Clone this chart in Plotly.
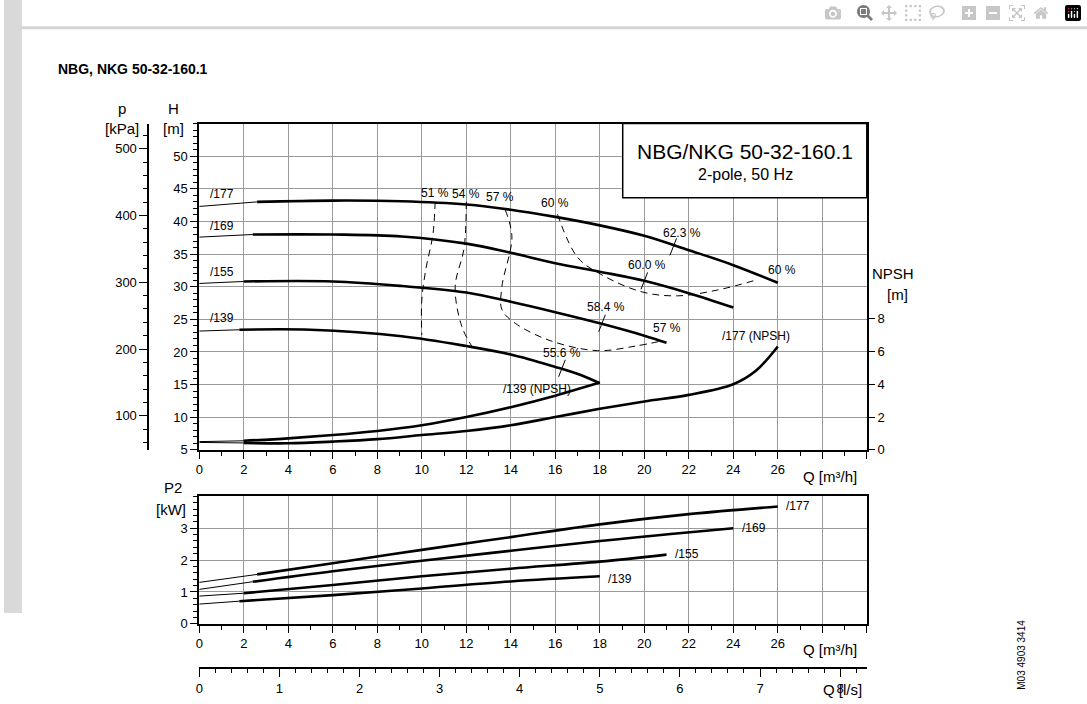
import plotly.graph_objects as go

# ---------- data ----------
H177_Q = [2.6, 6, 9.1, 12, 14, 16, 18, 20, 22, 24, 26]
H177_H = [43.0, 43.2, 43.1, 42.6, 41.8, 40.7, 39.4, 37.8, 35.6, 33.3, 30.6]
H169_Q = [2.4, 6, 9.1, 12, 14, 16, 18, 20, 22, 24]
H169_H = [38.0, 38.0, 37.7, 36.6, 35.2, 33.6, 32.3, 30.9, 29.0, 26.8]
H155_Q = [2, 6, 9.1, 12, 14, 16, 18, 20, 21]
H155_H = [30.8, 30.8, 30.1, 29.1, 27.7, 26.1, 24.4, 22.5, 21.4]
H139_Q = [1.8, 5, 9.1, 12, 14, 16, 17.2, 18]
H139_H = [23.4, 23.4, 22.4, 20.9, 19.6, 17.7, 16.4, 15.2]
H_thin_start = [42.3, 37.6, 30.5, 23.2]

NPSH139_Q = [0, 2, 4, 6, 8, 10, 12, 14, 16, 18]
NPSH139_V = [0.5, 0.55, 0.7, 0.9, 1.15, 1.5, 2.0, 2.6, 3.3, 4.1]
NPSH177_Q = [0, 2, 4, 6, 8, 10, 12, 14, 16, 18, 20, 22, 24, 25, 26]
NPSH177_V = [0.45, 0.42, 0.4, 0.5, 0.65, 0.9, 1.15, 1.5, 2.0, 2.5, 2.95, 3.35, 4.0, 4.8, 6.3]

E51_Q = [10.6, 10.5, 10.2, 10.0, 10.0]
E51_H = [43.0, 38.0, 33.0, 28.0, 22.6]
E54_Q = [12.0, 11.9, 11.5, 11.8, 12.3]
E54_H = [43.0, 35.9, 30.0, 23.9, 20.6]
E57_Q = [13.75, 14.05, 13.6, 13.6, 14.2, 15.8, 17.9, 19.6, 20.8]
E57_H = [41.8, 37.6, 30.0, 26.5, 24.4, 21.7, 20.2, 20.9, 21.7]
E60_Q = [16.1, 17.0, 18.1, 19.9, 21.5, 23.3, 25.1]
E60_H = [41.1, 34.5, 31.8, 29.2, 28.6, 29.5, 31.1]
BEP_Q = [21.3, 20.0, 18.1, 16.3]
BEP_H = [36.1, 30.9, 24.4, 17.5]

P177_Q = [2.6, 6, 10, 14, 18, 22, 26]
P177_P = [1.55, 1.9, 2.32, 2.72, 3.12, 3.44, 3.68]
P169_Q = [2.4, 6, 10, 14, 18, 24]
P169_P = [1.32, 1.65, 1.98, 2.29, 2.6, 3.0]
P155_Q = [2, 6, 10, 14, 18, 21]
P155_P = [0.96, 1.22, 1.49, 1.73, 1.95, 2.17]
P139_Q = [1.8, 6, 10, 14, 18]
P139_P = [0.71, 0.9, 1.11, 1.33, 1.49]
P_thin_start = [1.3, 1.08, 0.87, 0.62]

curve_names = ["/177", "/169", "/155", "/139"]
eff_labels = ["51 %", "54 %", "57 %", "60 %", "62.3 %", "60.0 %", "60 %", "58.4 %", "57 %", "55.6 %"]
eff_label_Q = [10.6, 12.0, 13.5, 16.0, 21.7, 20.1, 26.2, 18.3, 21.0, 16.3]
eff_label_H = [44.4, 44.2, 43.8, 42.8, 38.3, 33.4, 32.6, 26.9, 23.7, 19.8]

xticks_q = list(range(0, 31, 2))
xtick_txt = [str(v) if v <= 26 else "" for v in xticks_q]

# ---------- figure ----------
fig = go.Figure()
FONT = "Liberation Sans, Arial, sans-serif"
thick = dict(color="black", width=2.6)
thin = dict(color="black", width=1)
dash = dict(color="black", width=1, dash="7px,5px")

Hset = [(H177_Q, H177_H), (H169_Q, H169_H), (H155_Q, H155_H), (H139_Q, H139_H)]
for (q, h), h0 in zip(Hset, H_thin_start):
    fig.add_trace(go.Scatter(x=[0, q[0]], y=[h0, h[0]], mode="lines", line=thin, line_shape="spline"))
    fig.add_trace(go.Scatter(x=q, y=h, mode="lines", line=thick, line_shape="spline"))

for q, h in [(E51_Q, E51_H), (E54_Q, E54_H), (E57_Q, E57_H), (E60_Q, E60_H)]:
    fig.add_trace(go.Scatter(x=q, y=h, mode="lines", line=dash, line_shape="spline"))
for q, h in zip(BEP_Q, BEP_H):
    fig.add_trace(go.Scatter(x=[q - 0.15, q + 0.15], y=[h - 1.3, h + 1.3], mode="lines", line=thin))

for q, v in [(NPSH139_Q, NPSH139_V), (NPSH177_Q, NPSH177_V)]:
    fig.add_trace(go.Scatter(x=[q[0], q[1]], y=[v[0], v[1]], mode="lines", line=thin, yaxis="y2"))
    fig.add_trace(go.Scatter(x=q[1:], y=v[1:], mode="lines", line=thick, line_shape="spline", yaxis="y2"))

Pset = [(P177_Q, P177_P), (P169_Q, P169_P), (P155_Q, P155_P), (P139_Q, P139_P)]
for (q, p), p0 in zip(Pset, P_thin_start):
    fig.add_trace(go.Scatter(x=[0, q[0]], y=[p0, p[0]], mode="lines", line=thin, xaxis="x2", yaxis="y4"))
    fig.add_trace(go.Scatter(x=q, y=p, mode="lines", line=thick, line_shape="spline", xaxis="x2", yaxis="y4"))

# invisible helpers so the extra axes (p and Q l/s) are drawn
fig.add_trace(go.Scatter(x=[1], y=[100], mode="markers", marker=dict(opacity=0), yaxis="y3", hoverinfo="skip"))
fig.add_trace(go.Scatter(x=[1], y=[1], mode="markers", marker=dict(opacity=0), xaxis="x3", yaxis="y4", hoverinfo="skip"))

W, Hpx = 1087, 704
def px(x): return x / W
def py(y): return (Hpx - y) / Hpx

XD = [px(196), px(866)]
tickfont = dict(family=FONT, size=13, color="black")
ax_common = dict(showline=True, linecolor="black", linewidth=2, ticks="outside", tickcolor="black",
                 tickfont=tickfont, showgrid=True, gridcolor="#9a9a9a", gridwidth=1, zeroline=False)

fig.update_layout(
    width=W, height=Hpx, margin=dict(l=0, r=0, t=0, b=0), showlegend=False,
    plot_bgcolor="white", paper_bgcolor="white", font=dict(family=FONT, color="black"),
    xaxis=dict(ax_common, domain=XD, anchor="y", range=[0, 30], tickmode="array", tickvals=xticks_q,
               ticktext=xtick_txt, ticklen=7, mirror=True,
               minor=dict(tickmode="linear", tick0=0, dtick=1, ticklen=4, showgrid=False, tickcolor="black")),
    yaxis=dict(ax_common, domain=[py(455), py(125)], anchor="x", range=[5, 55], tickmode="array",
               tickvals=list(range(5, 51, 5)), ticklen=7, mirror=True,
               minor=dict(tickmode="linear", tick0=5, dtick=1, ticklen=4, showgrid=False, tickcolor="black")),
    yaxis2=dict(overlaying="y", side="right", anchor="x", range=[0, 19.88], tickmode="array",
                tickvals=[0, 2, 4, 6, 8], showgrid=False, showline=False, ticks="outside", ticklen=7,
                tickcolor="black", tickfont=tickfont, zeroline=False),
    yaxis3=dict(overlaying="y", side="left", anchor="free", position=px(145), range=[5 * 9.78, 55 * 9.78],
                tickmode="array", tickvals=[100, 200, 300, 400, 500], showgrid=False, showline=True,
                linecolor="black", linewidth=2, ticks="outside", ticklen=8, tickcolor="black",
                tickfont=tickfont, zeroline=False,
                minor=dict(tickmode="linear", tick0=0, dtick=20, ticklen=4, tickcolor="black")),
    xaxis2=dict(ax_common, domain=XD, anchor="y4", range=[0, 30], tickmode="array", tickvals=xticks_q,
                ticktext=xtick_txt, ticklen=7, mirror=True,
                minor=dict(tickmode="linear", tick0=0, dtick=1, ticklen=4, showgrid=False, tickcolor="black")),
    yaxis4=dict(ax_common, domain=[py(631), py(502)], anchor="x2", range=[0, 4], tickmode="array",
                tickvals=[0, 1, 2, 3], ticklen=7, mirror=True,
                minor=dict(tickmode="linear", tick0=0, dtick=0.2, ticklen=4, showgrid=False, tickcolor="black")),
    xaxis3=dict(domain=XD, anchor="free", position=py(676), range=[0, 30 / 3.6], overlaying="x2",
                side="bottom", tickmode="linear", tick0=0, dtick=1, showline=True, linecolor="black",
                linewidth=2, ticks="outside", ticklen=8, tickcolor="black", tickfont=tickfont,
                showgrid=False, zeroline=False,
                minor=dict(tickmode="linear", tick0=0, dtick=0.2, ticklen=4, tickcolor="black")),
)

ann = []
def A(x, y, t, xref="paper", yref="paper", size=13, xa="center", ya="middle", **kw):
    ann.append(dict(x=x, y=y, text=t, xref=xref, yref=yref, showarrow=False,
                    font=dict(family=FONT, size=size, color="black"), xanchor=xa, yanchor=ya, **kw))

A(px(52), py(70), "<b>NBG, NKG 50-32-160.1</b>", size=14, xa="left")
A(px(118), py(110), "p", size=15)
A(px(118), py(130), "[kPa]", size=15)
A(px(170), py(110), "H", size=15)
A(px(170), py(130), "[m]", size=15)
A(px(892), py(277), "NPSH", size=15)
A(px(897), py(298), "[m]", size=15)
A(px(800), py(482), "Q [m³/h]", size=15, xa="left")
A(px(800), py(657), "Q [m³/h]", size=15, xa="left")
A(px(820), py(697), "Q [l/s]", size=15, xa="left")
A(px(170), py(493), "P2", size=15)
A(px(168), py(515), "[kW]", size=15)
A(px(744), py(153), "NBG/NKG 50-32-160.1", size=21)
A(px(744), py(177), "2-pole, 50 Hz", size=16)
A(px(1021), py(662), "M03 4903 3414", size=10, textangle=-90)

for name, h0 in zip(curve_names, [44.2, 39.3, 32.3, 25.2]):
    A(0.4, h0, name, xref="x", yref="y", size=12, xa="left")
for t, q, h in zip(eff_labels, eff_label_Q, eff_label_H):
    A(q, h, t, xref="x", yref="y", size=12)
A(25.0, 22.5, "/177 (NPSH)", xref="x", yref="y", size=12)
A(15.2, 14.3, "/139 (NPSH)", xref="x", yref="y", size=12)
for name, q, p in zip(curve_names, [26.3, 24.3, 21.3, 18.3], [3.7, 3.0, 2.2, 1.4]):
    A(q, p, name, xref="x2", yref="y4", size=12, xa="left")
fig.update_layout(annotations=ann)

fig.add_shape(type="rect", xref="paper", yref="paper", x0=px(621), x1=px(866), y0=py(200), y1=py(125),
              line=dict(color="black", width=1.5), fillcolor="white", layer="above")
fig.add_shape(type="rect", xref="paper", yref="paper", x0=0, x1=px(18), y0=py(620), y1=1,
              line=dict(width=0), fillcolor="#d9d9d9")
fig.add_shape(type="line", xref="paper", yref="paper", x0=px(18), x1=1, y0=py(28), y1=py(28),
              line=dict(color="#d4d4d4", width=3))

fig.write_html("out.html", post_script="document.body.style.margin='0';document.body.style.overflow='hidden';")
